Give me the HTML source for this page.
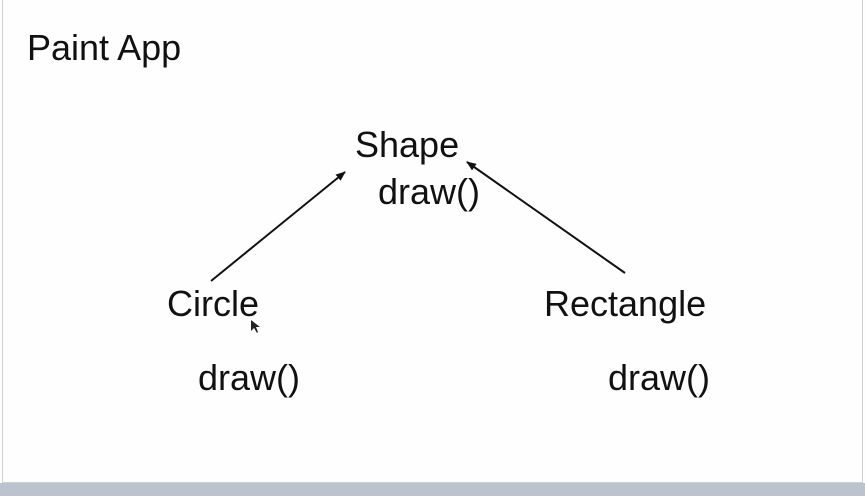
<!DOCTYPE html>
<html><head><meta charset="utf-8"><style>
html,body{margin:0;padding:0;width:865px;height:496px;overflow:hidden;background:#fefefe;}
.frame{position:absolute;left:2px;top:0;width:859px;height:482px;border-left:1px solid #d0d0d0;border-right:1px solid #d0d0d0;border-bottom:1px solid #d0d0d0;background:#fefefe;}
.bar{position:absolute;left:0;top:483px;width:865px;height:13px;background:#bcc3cf;}
svg{position:absolute;left:0;top:0;}
text{font-family:"Liberation Sans",sans-serif;font-size:36px;fill:#111;}
</style></head><body>
<div class="frame"></div><div class="bar"></div>
<svg width="865" height="496">
<defs><marker id="a" markerWidth="10" markerHeight="8" refX="9" refY="4" orient="auto" markerUnits="userSpaceOnUse"><path d="M0,0 L10,4 L0,8 z" fill="#111"/></marker></defs>
<text x="27" y="60" font-size="34.5">Paint App</text>
<text x="355" y="157">Shape</text>
<text x="378" y="204">draw()</text>
<text x="167" y="316">Circle</text>
<text x="544" y="316">Rectangle</text>
<text x="198" y="390">draw()</text>
<text x="608" y="390">draw()</text>
<line x1="211" y1="281" x2="345" y2="172" stroke="#111" stroke-width="2" marker-end="url(#a)"/>
<line x1="625" y1="273" x2="467" y2="162" stroke="#111" stroke-width="2" marker-end="url(#a)"/>
<path d="M251,320 L251,331 L254,328 L257,333 L258,332 L256,327 L260,327 z" fill="#222"/>
</svg>
</body></html>
